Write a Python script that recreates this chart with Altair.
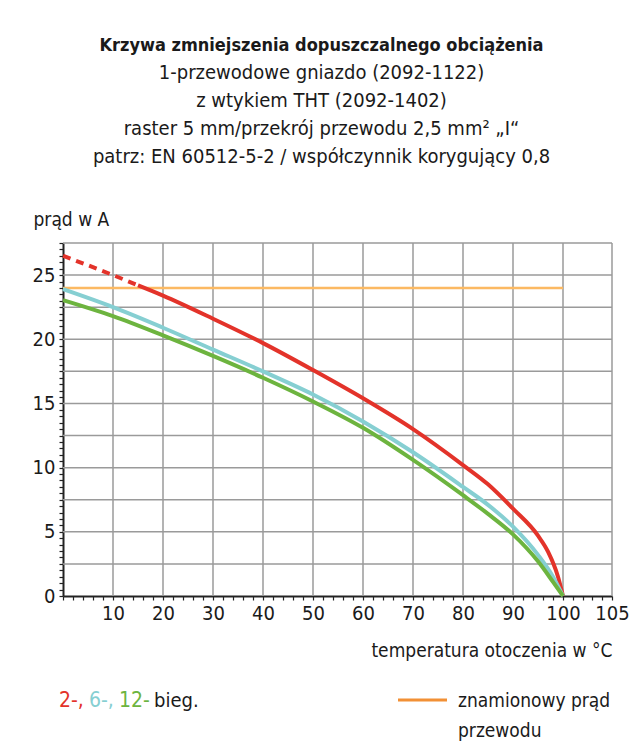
import altair as alt
import pandas as pd

# ---- data ----
red_dash_x = [0, 10, 15]
red_dash_y = [26.5, 25.0, 24.2]
red_x = [15, 20, 30, 40, 50, 60, 70, 80, 85, 90, 95, 97, 99, 100]
red_y = [24.2, 23.4, 21.6, 19.7, 17.6, 15.4, 13.0, 10.2, 8.7, 6.8, 4.7, 3.45, 1.5, 0]
curve_x = [0, 10, 20, 30, 40, 50, 60, 70, 80, 85, 90, 95, 98, 100]
cyan_y = [23.9, 22.5, 20.9, 19.2, 17.5, 15.7, 13.6, 11.2, 8.5, 7.1, 5.4, 3.2, 1.5, 0]
green_y = [23.05, 21.8, 20.3, 18.7, 17.0, 15.15, 13.1, 10.6, 7.85, 6.4, 4.8, 2.7, 1.1, 0]
rated_x = [0, 100]
rated_y = [24, 24]

x_grid = [10, 20, 30, 40, 50, 60, 70, 80, 90, 100, 105]
y_grid = [2.5, 5, 7.5, 10, 12.5, 15, 17.5, 20, 22.5, 25, 27.5]
x_ticks = list(range(0, 101, 2)) + [101, 102, 103, 104, 105]
y_ticks = [i * 0.5 for i in range(0, 56)]

title_main = "Krzywa zmniejszenia dopuszczalnego obciążenia"
title_sub = [
    "1-przewodowe gniazdo (2092-1122)",
    "z wtykiem THT (2092-1402)",
    "raster 5 mm/przekrój przewodu 2,5 mm² „I“",
    "patrz: EN 60512-5-2 / współczynnik korygujący 0,8",
]
y_title = "prąd w A"
x_title = "temperatura otoczenia w °C"

series = ["2-bieg. (ekstrapolacja)", "2-bieg.", "6-bieg.", "12-bieg.", "znamionowy prąd przewodu"]
colors = ["#E3332A", "#E3332A", "#86CFD2", "#6DB43F", "#FCB962"]

FONT = "DejaVu Sans Condensed, Liberation Sans Narrow, Roboto, sans-serif"
TXT = "#1a1a1a"

rows = []
for x, y in zip(red_dash_x, red_dash_y):
    rows.append({"series": series[0], "x": x, "y": y})
for x, y in zip(red_x, red_y):
    rows.append({"series": series[1], "x": x, "y": y})
for x, y in zip(curve_x, cyan_y):
    rows.append({"series": series[2], "x": x, "y": y})
for x, y in zip(curve_x, green_y):
    rows.append({"series": series[3], "x": x, "y": y})
for x, y in zip(rated_x, rated_y):
    rows.append({"series": series[4], "x": x, "y": y})
df = pd.DataFrame(rows)

xscale = alt.Scale(domain=[0, 100, 105], range=[0, 500, 549])
yscale = alt.Scale(domain=[0, 27.5], nice=False, zero=False)

X = alt.X(
    "x:Q",
    scale=xscale,
    axis=alt.Axis(
        values=x_ticks,
        labelExpr="(datum.value > 0 && (datum.value % 10 == 0 || datum.value == 105)) ? format(datum.value, 'd') : ''",
        grid=False,
        domainColor="#222222",
        domainWidth=2,
        tickColor="#222222",
        tickSize=4,
        tickWidth=1.2,
        labelFont=FONT,
        labelFontSize=20,
        labelColor=TXT,
        labelPadding=3,
        labelOverlap=False,
        labelFlush=False,
        labelBound=False,
        title=x_title,
        titleFont=FONT,
        titleFontSize=19,
        titleFontWeight="normal",
        titleColor=TXT,
        titleX=549,
        titleY=60,
        titleAlign="right",
        titleBaseline="alphabetic",
    ),
)
Y = alt.Y(
    "y:Q",
    scale=yscale,
    axis=alt.Axis(
        values=y_ticks,
        labelExpr="datum.value % 5 == 0 ? format(datum.value, 'd') : ''",
        grid=False,
        domainColor="#222222",
        domainWidth=2,
        tickColor="#222222",
        tickSize=4,
        tickWidth=1.2,
        labelFont=FONT,
        labelFontSize=20,
        labelColor=TXT,
        labelPadding=4,
        labelOverlap=False,
        labelFlush=False,
        labelBound=False,
        title=y_title,
        titleFont=FONT,
        titleFontSize=19,
        titleFontWeight="normal",
        titleColor=TXT,
        titleAngle=0,
        titleX=-30,
        titleY=-18,
        titleAlign="left",
        titleBaseline="alphabetic",
    ),
)

color = alt.Color("series:N", scale=alt.Scale(domain=series, range=colors), legend=None)

xgrid = alt.Chart(pd.DataFrame({"x": x_grid})).mark_rule(color="#9a9a9a", strokeWidth=1.5).encode(x=X)
ygrid = alt.Chart(pd.DataFrame({"y": y_grid})).mark_rule(color="#9a9a9a", strokeWidth=1.5).encode(y=Y)

rated = alt.Chart(df[df.series == series[4]]).mark_line(strokeWidth=2.5).encode(x=X, y=Y, color=color)
dashed = alt.Chart(df[df.series == series[0]]).mark_line(
    strokeWidth=4, strokeDash=[8, 6], interpolate="monotone"
).encode(x=X, y=Y, color=color)
curves = alt.Chart(df[df.series.isin(series[1:4])]).mark_line(
    strokeWidth=4, interpolate="monotone"
).encode(x=X, y=Y, color=color, detail="series:N")


def label(text, x, y, col, size=19, align="left"):
    return alt.Chart(pd.DataFrame({"t": [text]})).mark_text(
        font=FONT, fontSize=size, color=col, align=align, baseline="alphabetic"
    ).encode(text="t:N", x=alt.value(x), y=alt.value(y))


leg_y = 464
legend_layers = [
    label("2-,", -4, leg_y, colors[1], 21),
    label("6-,", 26, leg_y, colors[2], 21),
    label("12-", 56, leg_y, colors[3], 21),
    label("bieg.", 91, leg_y, TXT, 20),
    label("znamionowy prąd", 395, leg_y, TXT),
    label("przewodu", 395, leg_y + 30, TXT),
]
leg_line = alt.Chart(pd.DataFrame({"a": [0]})).mark_rule(color="#F29035", strokeWidth=3).encode(
    x=alt.value(335), x2=alt.value(384), y=alt.value(leg_y - 7)
)

chart = alt.layer(
    xgrid, ygrid, rated, curves, dashed, leg_line, *legend_layers
).properties(
    width=549,
    height=353,
    padding={"left": 55, "top": 235, "right": 22, "bottom": 150},
    autosize=alt.AutoSizeParams(type="none"),
    title=alt.TitleParams(
        text=title_main,
        subtitle=title_sub,
        font=FONT,
        fontSize=18,
        fontWeight="bold",
        color=TXT,
        subtitleFont=FONT,
        subtitleFontSize=20,
        subtitleColor=TXT,
        subtitleLineHeight=28,
        subtitlePadding=8,
        anchor="middle",
        dx=-16,
        offset=43,
    ),
).configure_view(stroke=None)

chart.save("out.html", embed_options={"renderer": "svg", "actions": False})
